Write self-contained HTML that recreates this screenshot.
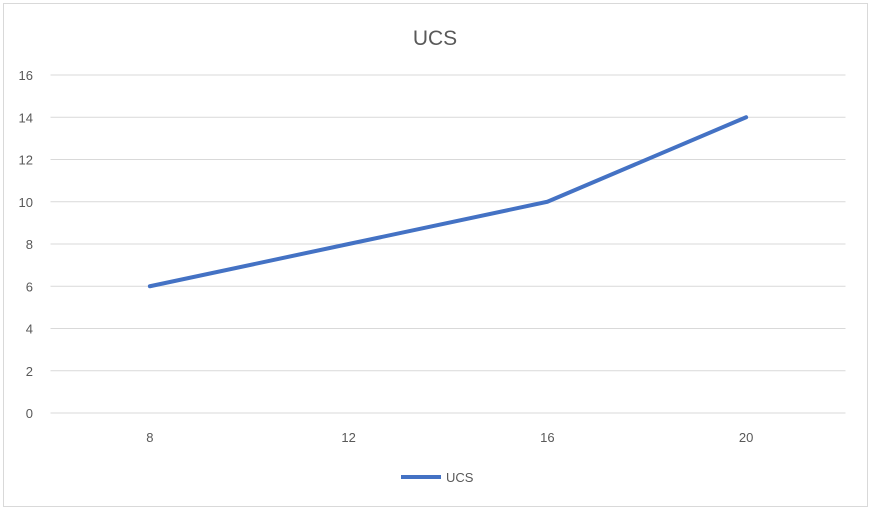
<!DOCTYPE html>
<html><head><meta charset="utf-8"><style>
html,body{margin:0;padding:0;background:#fff;}
svg{display:block;font-family:"Liberation Sans",sans-serif;}
</style></head><body>
<svg id="chart" width="871" height="511">
<rect x="3.5" y="3.5" width="864" height="503" fill="#fff" stroke="#d9d9d9"/>
<text x="435" y="45" text-anchor="middle" font-size="21" fill="#595959">UCS</text>
<g id="grid"></g><g id="ylabels"></g><g id="xlabels"></g><g id="series"></g>
<g>
<line x1="401" y1="477" x2="441" y2="477" stroke="#4472c4" stroke-width="4"/>
<text x="446" y="482" font-size="13" fill="#595959">UCS</text>
</g>
</svg>
<script>
const categories=[8,12,16,20];
const values=[6,8,10,14];
const yTicks=[0,2,4,6,8,10,12,14,16];
const ns="http://www.w3.org/2000/svg";
const L=50.5,R=845.5,T=75,B=413,yMax=16;
const bw=(R-L)/categories.length;
function xs(i){return L+bw*(i+0.5);}
function ys(v){return B-(v/yMax)*(B-T);}
function mk(t,a,p){const e=document.createElementNS(ns,t);for(const k in a)e.setAttribute(k,a[k]);document.getElementById(p).appendChild(e);return e;}
yTicks.forEach(v=>{
 const g=mk('line',{x1:L,x2:R,y1:ys(v),y2:ys(v),stroke:'#d9d9d9','stroke-width':1},'grid');
 
 
 const t=mk('text',{x:33,y:ys(v)+5,'text-anchor':'end','font-size':13,fill:'#595959'},'ylabels');
 t.textContent=v;
 
 
});
categories.forEach((c,i)=>{
 const t=mk('text',{x:xs(i),y:442,'text-anchor':'middle','font-size':13,fill:'#595959'},'xlabels');
 t.textContent=c;
 
 
});
const pts=values.map((v,i)=>xs(i)+','+ys(v)).join(' ');
const pl=mk('polyline',{points:pts,fill:'none',stroke:'#4472c4','stroke-width':4,'stroke-linejoin':'round','stroke-linecap':'round'},'series');


</script>
</body></html>
